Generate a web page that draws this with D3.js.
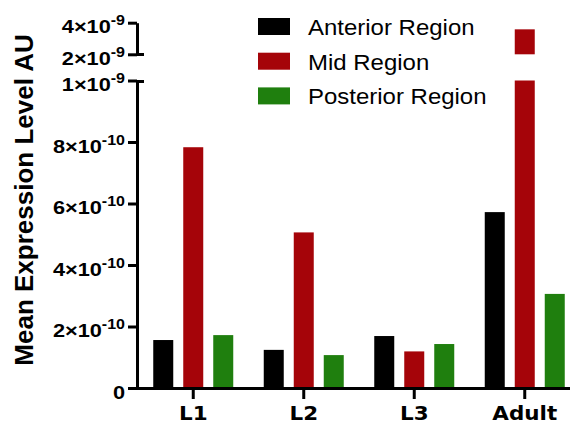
<!DOCTYPE html>
<html>
<head>
<meta charset="utf-8">
<script src="https://cdn.jsdelivr.net/npm/d3@7"></script>
<style>
  body { margin: 0; background: #fff; }
  svg { display: block; }
</style>
</head>
<body>
<svg id="chart" width="570" height="426"></svg>
<script>
// data
const stages = ["L1", "L2", "L3", "Adult"];
const regions = ["Anterior Region", "Mid Region", "Posterior Region"];
const regionColors = ["#000000", "#a50409", "#1f7f0e"];
const anterior = [1.56e-10, 1.24e-10, 1.69e-10, 5.72e-10];
const mid = [7.83e-10, 5.06e-10, 1.19e-10, 3.58e-9];
const posterior = [1.72e-10, 1.07e-10, 1.43e-10, 3.06e-10];

// broken y axis: lower and upper segment
const lowerTicks = [0, 2e-10, 4e-10, 6e-10, 8e-10, 1e-9];
const lowerTickLabels = [["0", ""], ["2", "-10"], ["4", "-10"], ["6", "-10"], ["8", "-10"], ["1", "-9"]];
const upperTicks = [2e-9, 4e-9];
const upperTickLabels = [["2", "-9"], ["4", "-9"]];

const series = [anterior, mid, posterior];

const width = 570;
const axisX = 137;
const baseY = 388;

const svg = d3.select("#chart");

const yLow = d3.scaleLinear().domain([0, 1e-9]).range([baseY, 80.5]);
const yHigh = d3.scaleLinear().domain([2e-9, 4e-9]).range([54.3, 22.7]);

const x = d3.scaleBand().domain(stages).range([138, 580]);
const sub = d3.scalePoint().domain(regions).range([-30, 30]);
const barW = 20;

// bars
const rows = [];
stages.forEach((s, i) => {
  regions.forEach((r, j) => {
    rows.push({stage: s, region: r, value: series[j][i], color: regionColors[j]});
  });
});

const bars = svg.append("g");
rows.forEach(d => {
  const cx = x(d.stage) + x.bandwidth() / 2 + sub(d.region);
  const lowTop = yLow(Math.min(d.value, 1e-9));
  bars.append("rect")
    .attr("x", cx - barW / 2)
    .attr("y", lowTop)
    .attr("width", barW)
    .attr("height", yLow(0) - lowTop)
    .attr("fill", d.color);
  if (d.value > 2e-9) {
    bars.append("rect")
      .attr("x", cx - barW / 2)
      .attr("y", yHigh(d.value))
      .attr("width", barW)
      .attr("height", yHigh(2e-9) - yHigh(d.value))
      .attr("fill", d.color);
  }
});

// y axis label helper: mantissa x 10 with superscript exponent
function addLabels(g, labels) {
  g.selectAll(".tick").each(function(d, i) {
    const lab = labels[i];
    const t = d3.select(this).append("text")
      .attr("transform", "translate(-12,10) scale(1.145,1)")
      .attr("text-anchor", "end")
      .attr("fill", "#000")
      .style("font-family", "'Liberation Sans', Arial, sans-serif")
      .style("font-weight", "bold")
      .style("font-size", "19px");
    if (lab[1] === "") {
      t.text(lab[0]);
    } else {
      t.append("tspan").text(lab[0] + "\u00d710");
      t.append("tspan").attr("dy", -8).style("font-size", "14px").text(lab[1]);
    }
  });
}

function styleAxis(g) {
  g.select(".domain").attr("stroke", "#000").attr("stroke-width", 3);
  g.selectAll(".tick line").attr("stroke", "#000").attr("stroke-width", 3);
}

const gLow = svg.append("g")
  .attr("transform", `translate(${axisX},0)`)
  .call(d3.axisLeft(yLow).tickValues(lowerTicks).tickSize(9).tickSizeOuter(0).tickFormat(""));
styleAxis(gLow);
addLabels(gLow, lowerTickLabels);

const gHigh = svg.append("g")
  .attr("transform", `translate(${axisX},0)`)
  .call(d3.axisLeft(yHigh).tickValues(upperTicks).tickSize(9).tickSizeOuter(0).tickFormat(""));
styleAxis(gHigh);
addLabels(gHigh, upperTickLabels);

// ticks at the break run across the axis
[yLow(1e-9), yHigh(2e-9)].forEach(y => {
  svg.append("line")
    .attr("x1", axisX).attr("x2", axisX + 7)
    .attr("y1", Math.round(y) + 0.5).attr("y2", Math.round(y) + 0.5)
    .attr("stroke", "#000").attr("stroke-width", 3);
});

// x axis
const gX = svg.append("g")
  .attr("transform", `translate(0,${baseY})`)
  .call(d3.axisBottom(x).tickSize(11).tickSizeOuter(0));
gX.select(".domain").remove();
gX.selectAll(".tick line").attr("stroke", "#000").attr("stroke-width", 3);
gX.selectAll(".tick text")
  .attr("y", 0).attr("dy", 0)
  .attr("transform", "translate(0,32) scale(1.13,1)")
  .attr("fill", "#000")
  .style("font-family", "'DejaVu Sans', Verdana, sans-serif")
  .style("font-weight", "bold")
  .style("font-size", "19px");
svg.append("line")
  .attr("x1", axisX - 1.5).attr("x2", width)
  .attr("y1", baseY + 0.5).attr("y2", baseY + 0.5)
  .attr("stroke", "#000").attr("stroke-width", 3);

// y title
svg.append("text")
  .attr("transform", "translate(33,200) rotate(-90)")
  .attr("text-anchor", "middle")
  .style("font-family", "'Liberation Sans', Arial, sans-serif")
  .style("font-weight", "bold")
  .style("font-size", "26px")
  .text("Mean Expression Level AU");

// legend
const legend = svg.append("g");
regions.forEach((r, i) => {
  const y0 = 18 + i * 34.7;
  legend.append("rect")
    .attr("x", 258).attr("y", y0)
    .attr("width", 32).attr("height", 17)
    .attr("fill", regionColors[i]);
  legend.append("text")
    .attr("transform", `translate(308,${y0 + 17}) scale(1.09,1)`)
    .style("font-family", "'Liberation Sans', Arial, sans-serif")
    .style("font-size", "22px")
    .text(r);
});
</script>
</body>
</html>
